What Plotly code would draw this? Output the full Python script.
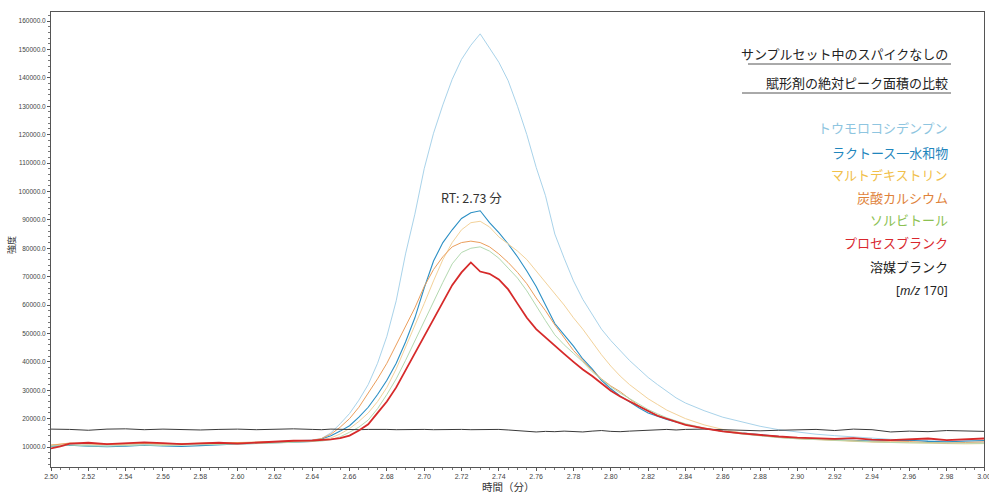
import plotly.graph_objects as go

# retention time grid (min)
time_min = [2.50, 2.505, 2.51, 2.52, 2.53, 2.54, 2.55, 2.56, 2.57, 2.58, 2.59, 2.60, 2.61, 2.62, 2.63,
            2.64, 2.645, 2.65, 2.655, 2.66, 2.665, 2.67, 2.675, 2.68, 2.685, 2.69, 2.695, 2.70, 2.705,
            2.71, 2.715, 2.72, 2.725, 2.73, 2.735, 2.74, 2.745, 2.75, 2.755, 2.76, 2.765, 2.77, 2.775,
            2.78, 2.785, 2.79, 2.795, 2.80, 2.805, 2.81, 2.815, 2.82, 2.825, 2.83, 2.835, 2.84,
            2.85, 2.86, 2.87, 2.88, 2.89, 2.90, 2.91, 2.92, 2.93, 2.94, 2.95, 2.96, 2.97, 2.98, 2.99, 3.00]

corn_starch = [10400, 10600, 10900, 10800, 10600, 10800, 11000, 10800, 10900, 11100, 11200, 11300, 11500, 11800, 12100,
               12500, 13000, 15000, 18200, 21800, 26500, 32000, 39500, 49000, 61500, 78000, 92000, 108000, 120500,
               130500, 139500, 146500, 151500, 155500, 150500, 145500, 139000, 130000, 120000, 108500, 98500, 85000, 76500,
               68500, 62000, 56500, 51500, 47500, 44000, 40500, 37500, 34500, 32000, 29500, 27300, 25500,
               22800, 20500, 18800, 17300, 16100, 15200, 14500, 14000, 13500, 13000, 12700, 12400, 12200, 12000, 11800, 11700]

lactose = [10200, 10400, 10600, 10300, 10100, 10300, 10600, 10400, 10200, 10500, 10900, 11100, 11300, 11400, 11700,
           12000, 12800, 14000, 15600, 17500, 20500, 24000, 28500, 33500, 39500, 47000, 55500, 66000, 75500,
           82000, 86500, 90500, 92500, 93200, 89000, 85500, 81500, 77000, 72000, 66500, 60000, 53500, 49500,
           45500, 41000, 37500, 33500, 30500, 28000, 25800, 23800, 22000, 20800, 19700, 18800, 17900,
           16500, 15600, 15000, 14300, 13600, 13100, 12800, 12500, 12300, 12100, 12300, 12400, 12000, 11800, 12100, 12300]

maltodextrin = [10800, 10900, 11200, 11000, 10800, 11000, 11200, 11000, 11100, 11300, 11300, 11500, 11600, 11800, 12000,
                12000, 12500, 13200, 14600, 16500, 19000, 22000, 26000, 31000, 37500, 45000, 52500, 60500, 68500,
                76000, 82000, 86500, 89000, 89500, 87500, 84000, 81500, 79000, 76000, 72000, 68000, 64000, 60000,
                55500, 51500, 47000, 42500, 38500, 35000, 32000, 29500, 27000, 25000, 23000, 21500, 20000,
                17800, 16200, 15000, 14100, 13400, 12900, 12600, 12200, 11900, 11700, 11600, 11400, 11300, 11200, 11100, 11200]

calcium_carbonate = [10600, 10900, 11400, 11200, 11000, 11100, 11300, 11100, 11200, 11400, 11300, 11600, 11700, 11900, 12100,
                     12300, 13000, 14500, 17000, 20000, 24000, 29000, 34000, 39500, 46000, 53000, 59000, 66500, 72500,
                     77000, 80500, 82000, 82500, 82000, 80500, 78000, 75000, 71500, 67500, 62500, 58000, 53000, 48500,
                     44000, 40500, 37000, 34000, 31500, 29500, 27000, 24500, 22800, 21200, 20000, 19000, 18000,
                     16600, 15500, 14700, 14000, 13400, 13000, 12700, 12400, 12100, 11900, 11800, 11900, 11600, 11400, 11600, 11800]

sorbitol = [10300, 10500, 10700, 10400, 10300, 10500, 10700, 10500, 10600, 10800, 10900, 11000, 11200, 11400, 11600,
            11800, 12100, 12600, 13600, 15200, 17000, 19500, 23500, 28500, 34000, 40500, 47500, 54000, 61000,
            68000, 74500, 78500, 80000, 80500, 79000, 76500, 73000, 69500, 65000, 59500, 54500, 49500, 46000,
            43000, 40000, 36500, 33800, 31200, 29000, 27000, 25000, 23200, 21700, 20300, 19200, 18200,
            16700, 15500, 14600, 13900, 13300, 12900, 12600, 12300, 12000, 11800, 11600, 11500, 11400, 11300, 11200, 11300]

process_blank = [9500, 10200, 11200, 11500, 11000, 11200, 11600, 11400, 11000, 11300, 11500, 11200, 11600, 12000, 12200,
                 12300, 12400, 12700, 13100, 14000, 15800, 18000, 22000, 26000, 31000, 37000, 43000, 49000, 55500,
                 61500, 67000, 71500, 75000, 71800, 71000, 69000, 65500, 60500, 55500, 51500, 48500, 45500, 42800,
                 40000, 37300, 35000, 32500, 29800, 27800, 26000, 24300, 22700, 21000, 20000, 18900, 17800,
                 16600, 15500, 14800, 14200, 13700, 13300, 13100, 12900, 13100, 12600, 12400, 12800, 13000, 12400, 12700, 13000]

solvent_blank = [16300, 16300, 16200, 15900, 16300, 16400, 16100, 16300, 16200, 16000, 16200, 16300, 16100, 16200, 16400,
                 16200, 16100, 16300, 16200, 16300, 16100, 16200, 16300, 16200, 16100, 16200, 16300, 16200, 16100,
                 16200, 16300, 16200, 16100, 16200, 16300, 16200, 16000, 15700, 15500, 15300, 15500, 15400, 15600,
                 15500, 15300, 15600, 15800, 15500, 15400, 15600, 15800, 15900, 16100, 16200, 16000, 16200,
                 16300, 16100, 15800, 15700, 15900, 16000, 16200, 15800, 16300, 16100, 15300, 15600, 15400, 15800, 15700, 15500]

x_tick_values = [2.50, 2.52, 2.54, 2.56, 2.58, 2.60, 2.62, 2.64, 2.66, 2.68, 2.70, 2.72, 2.74,
                 2.76, 2.78, 2.80, 2.82, 2.84, 2.86, 2.88, 2.90, 2.92, 2.94, 2.96, 2.98, 3.00]
x_tick_labels = ["%.2f" % v for v in x_tick_values]

series_names = ["トウモロコシデンプン", "ラクトース一水和物", "マルトデキストリン", "炭酸カルシウム",
                "ソルビトール", "プロセスブランク", "溶媒ブランク"]
series_values = [corn_starch, lactose, maltodextrin, calcium_carbonate, sorbitol, process_blank, solvent_blank]
line_colors = ["#a9d3ea", "#2b8fc4", "#f3d29a", "#eb9e5c", "#b3d9b0", "#d62a2a", "#3a3a3a"]
line_widths = [1, 1.1, 1, 1, 1, 1.8, 1]
label_colors = ["#8ec5e0", "#1f86bd", "#f1c04a", "#e0823a", "#8cc152", "#d9272e", "#222222"]

title_lines = ["サンプルセット中のスパイクなしの", "賦形剤の絶対ピーク面積の比較"]
rt_label = "RT: 2.73 分"
mz_label = "[<i>m/z</i> 170]"

fig = go.Figure()
draw_order = [0, 1, 2, 3, 4, 6, 5]
for i in draw_order:
    fig.add_trace(go.Scatter(x=time_min, y=series_values[i], mode="lines", name=series_names[i],
                             line=dict(color=line_colors[i], width=line_widths[i]), showlegend=False))

W, H = 989, 493
L, R, T, B = 51, 5, 12, 26
pw, ph = W - L - R, H - T - B

def px(x):
    return (x - L) / pw

def py(y):
    return (H - B - y) / ph

jp_font = "Noto Sans CJK JP"
annotations = []
for txt, yy in zip(title_lines, [53, 82]):
    annotations.append(dict(text=txt, x=px(950), y=py(yy), xref="paper", yref="paper",
                            xanchor="right", yanchor="middle", showarrow=False,
                            font=dict(family=jp_font, size=13, color="#222")))
legend_y = [128, 152, 175, 197, 219, 242, 266]
for name, col, yy in zip(series_names, label_colors, legend_y):
    annotations.append(dict(text=name, x=px(950), y=py(yy), xref="paper", yref="paper",
                            xanchor="right", yanchor="middle", showarrow=False,
                            font=dict(family=jp_font, size=13, color=col)))
annotations.append(dict(text=mz_label, x=px(950), y=py(290), xref="paper", yref="paper",
                        xanchor="right", yanchor="middle", showarrow=False,
                        font=dict(family="Noto Sans", size=12, color="#222")))
annotations.append(dict(text=rt_label, x=px(471), y=py(197), xref="paper", yref="paper",
                        xanchor="center", yanchor="middle", showarrow=False,
                        font=dict(family=jp_font, size=12.5, color="#333")))
annotations.append(dict(text="強度", x=px(12), y=py(245), xref="paper", yref="paper",
                        xanchor="center", yanchor="middle", showarrow=False, textangle=-90,
                        font=dict(family=jp_font, size=9, color="#333")))
annotations.append(dict(text="時間（分）", x=px(508), y=py(486), xref="paper", yref="paper",
                        xanchor="center", yanchor="middle", showarrow=False,
                        font=dict(family=jp_font, size=10.5, color="#333")))

shapes = [
    dict(type="line", xref="paper", yref="paper", x0=px(748), x1=px(951), y0=py(64), y1=py(64),
         line=dict(color="#555", width=1)),
    dict(type="line", xref="paper", yref="paper", x0=px(742), x1=px(951), y0=py(93), y1=py(93),
         line=dict(color="#555", width=1)),
]

fig.update_layout(
    width=W, height=H,
    margin=dict(l=L, r=R, t=T, b=B, autoexpand=False),
    paper_bgcolor="white", plot_bgcolor="white",
    annotations=annotations, shapes=shapes,
    xaxis=dict(range=[2.5, 3.0], tickmode="array", tickvals=x_tick_values, ticktext=x_tick_labels,
               automargin=False, ticklabeloverflow="allow",
               showline=True, linecolor="#555", linewidth=1, mirror=True,
               ticks="outside", ticklen=3, tickcolor="#555",
               minor=dict(dtick=0.005, tick0=2.5, ticks="outside", ticklen=2, tickcolor="#777"),
               showgrid=False, zeroline=False,
               tickfont=dict(family="Liberation Sans", size=7, color="#444")),
    yaxis=dict(range=[2960, 163200], dtick=10000, tick0=0, tickformat=".1f", automargin=False,
               showline=True, linecolor="#555", linewidth=1, mirror=True,
               ticks="outside", ticklen=3, tickcolor="#555",
               minor=dict(dtick=2000, ticks="outside", ticklen=2, tickcolor="#777"),
               showgrid=False, zeroline=False,
               tickfont=dict(family="Liberation Sans", size=6.5, color="#444")),
)

fig.write_html("out.html", config={"displayModeBar": False},
               post_script="document.body.style.margin='0';document.body.style.overflow='hidden';")
